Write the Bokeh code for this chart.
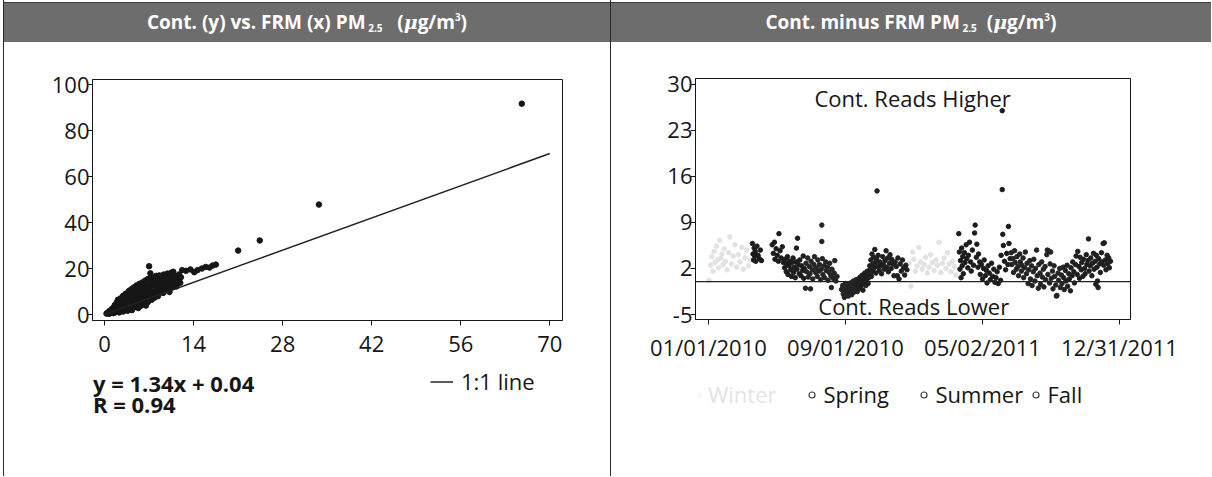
import pandas as pd
from bokeh.plotting import figure
from bokeh.models import Range1d, FixedTicker, Label, Legend, LegendItem, Div, Span
from bokeh.layouts import row, column
from bokeh.embed import file_html
from bokeh.resources import INLINE

FONT = "Open Sans"
INK = "#161616"
NAN = float("nan")

# ---------------- left panel data: Cont. (y) vs FRM (x) ----------------
left_points = [
    (0.3, 0.4), (0.5, 0.9), (0.7, 0.3), (0.8, 1.6), (1.0, 0.8), (1.1, 2.3), (1.2, 1.3), (1.4, 0.6), (1.4, 3.0), (1.5, 1.9),
    (1.6, 4.1), (1.7, 1.0), (1.8, 2.7), (1.9, 5.2), (2.0, 1.6), (2.0, 3.6), (2.1, 6.4), (2.2, 2.4), (2.3, 0.9), (2.3, 4.6),
    (2.4, 3.2), (2.5, 7.0), (2.5, 1.7), (2.6, 5.4), (2.7, 2.6), (2.8, 3.9), (2.9, 8.1), (2.9, 1.3), (3.0, 6.0), (3.1, 3.2),
    (3.2, 4.7), (3.3, 2.0), (3.3, 9.0), (3.4, 5.6), (3.5, 3.8), (3.5, 7.2), (3.6, 1.6), (3.7, 4.6), (3.8, 10.2), (3.8, 6.4),
    (3.9, 2.8), (4.0, 8.2), (4.0, 5.2), (4.1, 3.6), (4.2, 11.0), (4.2, 7.0), (4.3, 1.9), (4.4, 4.4), (4.4, 9.2), (4.5, 6.0),
    (4.5, 2.9), (4.6, 11.8), (4.7, 7.8), (4.8, 5.0), (4.8, 3.4), (4.9, 9.8), (5.0, 6.6), (5.0, 12.6), (5.1, 4.2), (5.2, 8.6),
    (5.3, 2.8), (5.3, 10.8), (5.4, 7.2), (5.5, 5.4), (5.5, 13.4), (5.6, 9.4), (5.7, 3.8), (5.8, 11.6), (5.9, 6.6), (6.0, 14.0),
    (6.0, 8.2), (6.1, 4.8), (6.2, 12.4), (6.3, 10.0), (6.3, 6.0), (6.4, 14.8), (6.5, 7.8), (6.5, 3.9), (6.6, 11.2), (6.7, 9.0),
    (6.8, 15.4), (6.8, 5.4), (6.9, 13.0), (7.0, 21.0), (7.0, 7.2), (7.1, 10.4), (7.2, 17.9), (7.2, 15.8), (7.3, 12.2), (7.4, 6.4),
    (7.4, 8.8), (7.5, 14.4), (7.6, 10.0), (7.7, 16.2), (7.8, 12.8), (7.9, 7.4), (8.0, 14.8), (8.0, 9.4), (8.1, 16.8), (8.2, 11.4),
    (8.3, 13.6), (8.4, 8.0), (8.4, 15.6), (8.5, 12.0), (8.6, 17.0), (8.7, 9.8), (8.8, 14.0), (8.9, 11.2), (9.0, 16.0), (9.1, 13.0),
    (9.2, 9.4), (9.3, 17.4), (9.4, 14.6), (9.5, 11.8), (9.6, 16.4), (9.7, 10.6), (9.8, 13.6), (9.9, 17.8), (10.0, 15.2), (10.1, 12.4),
    (10.2, 9.8), (10.3, 16.6), (10.4, 14.0), (10.5, 18.2), (10.6, 11.8), (10.7, 15.6), (10.8, 18.6), (11.0, 13.4), (11.1, 16.8), (11.3, 12.2),
    (11.5, 15.0), (11.7, 17.4), (11.9, 13.8), (12.0, 16.2), (12.2, 19.3), (12.8, 19.0), (13.5, 19.6), (14.1, 18.4), (14.6, 19.3), (15.3, 20.0),
    (15.9, 20.7), (16.5, 20.4), (17.0, 21.3), (17.5, 21.7), (21.0, 27.8), (24.4, 32.2), (33.7, 47.8), (65.6, 91.7),
]
frm_x = [pt[0] for pt in left_points]
cont_y = [pt[1] for pt in left_points]
one_to_one = [0, 70]
fit_slope, fit_intercept, fit_r = 1.34, 0.04, 0.94
left_xticks = [0, 14, 28, 42, 56, 70]
left_yticks = [0, 20, 40, 60, 80, 100]

# ---------------- right panel data: Cont. minus FRM by day ----------------
start_date = "2010-01-01"
tick_dates = ["01/01/2010", "09/01/2010", "05/02/2011", "12/31/2011"]
right_yticks = [-5, 2, 9, 16, 23, 30]
zero_ref = 0

winter = [
    (1, 0.2), (4, 2.5), (6, 3.8), (8, 1.6), (10, 4.6), (12, 2.9), (14, 5.4), (16, 3.3), (18, 2.1), (20, 6.3),
    (22, 3.6), (24, 4.2), (26, 2.6), (28, 5.0), (30, 3.1), (33, 1.8), (36, 4.4), (38, 6.8), (41, 2.7), (44, 3.9),
    (47, 5.6), (50, 2.2), (53, 4.1), (56, 3.0), (59, 5.2), (62, 1.9), (65, 3.6), (68, 4.8), (71, 2.4), (74, 3.3),
    (356, 2.8), (359, -0.7), (362, 4.5), (364, 3.4), (367, 1.6), (370, 2.4), (373, 5.2), (376, 3.0), (379, 1.9), (382, 2.6),
    (385, 3.7), (388, 1.3), (391, 2.2), (394, 4.1), (397, 2.9), (400, 1.7), (403, 3.3), (406, 2.5), (409, 6.0), (412, 1.4),
    (415, 2.8), (418, 3.6), (421, 2.0), (424, 4.4), (427, 2.7), (430, 1.5), (433, 3.1), (436, 2.3), (439, 1.0),
]
spring = [
    (78, 5.8), (79, 4.2), (80, 3.3), (81, 5.1), (82, 3.9), (83, 4.6), (84, 3.1), (86, 5.4), (88, 4.0), (90, 3.5),
    (92, 4.8), (94, 3.2), (113, 5.6), (115, 4.3), (117, 6.0), (118, 3.4), (120, 5.0), (122, 4.0), (124, 3.1), (125, 7.3),
    (127, 4.7), (129, 3.6), (131, 5.3), (133, 2.9), (135, 2.1), (136, 3.4), (138, 1.5), (139, 2.7), (140, 3.8), (141, 1.1),
    (143, 2.4), (144, 3.1), (146, 1.8), (147, 0.8), (148, 2.9), (150, 3.6), (151, 1.4), (152, 2.2), (154, 0.6), (155, 3.0),
    (156, 5.1), (157, 1.9), (158, 6.6), (159, 2.6), (161, 1.2), (162, 3.3), (164, 0.9), (165, 2.4), (167, 1.7), (168, 3.9),
    (169, 0.5), (170, 2.0),
    (444, 7.3), (445, 4.5), (446, 1.9), (447, 3.2), (448, 0.6), (449, 5.1), (450, 2.4), (451, 3.8), (452, 1.2), (454, 4.4),
    (455, 2.9), (457, 5.6), (458, 3.5), (460, 2.1), (461, 4.0), (463, 6.0), (465, 3.0), (466, 1.6), (468, 4.8), (470, 2.5),
    (472, 7.4), (473, 8.6), (475, 3.7), (476, 5.7), (478, 2.2), (479, 4.2), (481, 3.0), (482, 1.1), (484, 2.6), (486, 0.4),
    (488, 2.0), (489, 3.3), (491, 0.9), (493, 1.7), (494, -0.2), (496, 2.4), (498, 1.3), (500, 0.3), (502, 2.8), (504, 0.8),
    (506, 1.9), (508, -0.1), (510, 0.6), (512, 1.5), (514, -0.3), (516, 2.2), (518, 0.2), (519, 4.0), (521, 26.0), (521, 14.0),
    (522, 7.2), (523, 5.5), (525, 3.1), (527, 1.8), (529, 4.3), (531, 2.6), (532, 8.4), (533, 5.8), (535, 3.5),
]
summer = [
    (172, -1.0), (173, 2.8), (174, 1.5), (176, 3.6), (177, 0.7), (179, 2.3), (180, 1.2), (181, -1.1), (182, 3.1), (184, 1.8),
    (185, 0.4), (187, 2.6), (188, 3.8), (190, 1.4), (191, 2.1), (193, 0.8), (194, 3.3), (196, 1.6), (197, 2.6), (199, 0.3),
    (200, 1.9), (201, 8.6), (201, 6.1), (202, 3.5), (203, 1.1), (205, 2.4), (206, 0.6), (208, 3.0), (209, 1.7), (211, 2.2),
    (212, 0.2), (214, 1.4), (215, 2.8), (217, 0.9), (218, -0.9), (219, 1.9), (221, 0.5), (223, 1.3), (224, 3.2), (226, 0.1),
    (228, 0.8), (236, -1.2), (238, -0.6), (239, -1.9), (240, -1.0), (241, -2.4), (242, -1.5), (243, -0.3), (244, -2.0), (245, -1.1),
    (246, -1.7), (247, -0.5), (248, -2.2), (249, -1.3), (250, -0.8), (251, -1.8), (252, -0.2), (253, -1.4), (254, -2.0), (255, -0.7),
    (256, -1.2), (257, 0.1), (258, -1.6), (259, -0.9), (260, -0.4), (261, -1.3), (262, 0.3), (263, -0.8), (264, -1.5),
    (537, 4.4), (538, 2.6), (540, 3.5), (541, 1.4), (543, 4.7), (544, 2.9), (546, 1.9), (547, 3.8), (549, 2.3), (550, 0.9),
    (552, 4.2), (553, 3.0), (555, 1.6), (556, 2.5), (558, 3.6), (559, 0.6), (561, 2.1), (562, 4.5), (564, 1.2), (565, 2.8),
    (567, -0.3), (568, 1.8), (570, 3.2), (571, 0.4), (573, 2.4), (574, -0.6), (576, 1.5), (577, 3.4), (579, 0.1), (580, 2.0),
    (582, 4.8), (583, 0.9), (585, -1.0), (586, 2.6), (588, 1.3), (589, -0.4), (591, 3.0), (592, 0.7), (594, 1.9), (595, -0.8),
    (597, 2.3), (598, 0.3), (600, 4.1), (601, 4.8), (602, 1.1), (603, 4.7), (605, -0.2), (606, 2.7), (607, 4.5), (608, 0.5),
    (610, 1.6), (611, -1.1), (613, 2.4), (614, 0.8), (616, -0.5), (617, -2.2), (618, -2.1), (620, 1.3), (621, 0.2), (623, 2.0),
    (624, -0.9), (626, 1.0), (627, -0.3), (629, 2.2),
]
fall = [
    (265, -0.5), (266, 0.4), (267, -1.1), (268, -0.2), (269, 0.7), (270, -0.8), (271, 0.2), (272, -0.4), (273, 1.0), (274, -1.3),
    (275, 0.5), (276, -0.1), (277, 1.3), (278, 0.0), (279, -0.6), (280, 0.9), (281, 0.3), (282, 1.6), (283, -0.3), (284, 0.6),
    (285, 1.1), (286, 2.4), (287, 1.8), (288, 3.3), (289, 0.8), (290, 4.2), (291, 2.6), (292, 1.5), (293, 3.7), (294, 2.1),
    (295, 4.9), (296, 2.9), (297, 1.3), (298, 3.5), (299, 13.8), (300, 2.3), (301, 4.0), (303, 1.7), (304, 3.0), (306, 2.4),
    (307, 1.2), (309, 3.8), (310, 2.6), (312, 1.9), (313, 3.2), (315, 4.7), (316, 2.2), (318, 3.6), (319, 1.5), (321, 2.8),
    (322, 4.1), (324, 2.0), (325, 3.4), (327, 2.7), (329, 0.9), (331, 3.0), (333, 2.3), (335, 0.9), (336, 3.6), (338, 0.4),
    (340, 2.7), (342, 1.6), (344, 3.3), (346, 2.1), (348, 1.0), (350, 2.5), (352, 1.8),
    (630, 0.6), (631, -1.2), (633, 1.7), (634, 0.1), (636, 2.5), (637, -0.7), (639, 1.2), (640, 0.4), (642, -1.4), (643, 2.1),
    (645, 0.9), (646, 3.0), (648, 1.5), (649, -0.2), (651, 2.6), (652, 3.9), (654, 1.1), (655, 4.6), (657, 2.3), (658, 0.5),
    (659, 3.7), (661, 1.8), (662, 2.9), (664, 0.8), (665, 3.4), (667, 2.0), (668, 1.2), (670, 4.1), (671, 2.6), (673, 3.2),
    (674, 6.5), (675, 1.6), (677, 2.4), (678, 3.6), (680, 0.9), (681, 2.8), (683, 4.3), (684, 1.9), (686, 3.1), (687, -0.4),
    (688, 4.0), (689, 2.2), (690, 0.1), (691, -0.9), (692, 3.5), (694, 2.7), (695, 1.4), (697, 4.4), (698, 3.0), (700, 5.8),
    (701, 2.5), (702, 5.9), (704, 3.3), (705, 1.8), (707, 4.0), (708, 2.7), (710, 3.6), (711, 2.1), (713, 3.1),
]
season_names = ["Winter", "Spring", "Summer", "Fall"]
season_data = [winter, spring, summer, fall]
season_colors = ["#e2e2e2", "#1c1c1c", "#242424", "#1f1f1f"]
legend_text_colors = ["#e4e4e4", INK, INK, INK]
legend_marker_colors = ["#f3f3f3", "#3a3a3a", "#3a3a3a", "#3a3a3a"]

FS = "22px"


def style(p, xticks, yticks, x_standoff, y_standoff):
    p.grid.visible = False
    p.outline_line_color = INK
    p.outline_line_width = 1
    p.background_fill_color = "white"
    p.border_fill_color = "white"
    p.xaxis.ticker = FixedTicker(ticks=xticks)
    p.yaxis.ticker = FixedTicker(ticks=yticks)
    for ax in list(p.xaxis) + list(p.yaxis):
        ax.axis_line_color = INK
        ax.major_tick_line_color = INK
        ax.minor_tick_line_color = None
        ax.major_tick_in = 0
        ax.major_tick_out = 5
        ax.major_label_text_font = FONT
        ax.major_label_text_font_size = FS
        ax.major_label_text_color = INK
    p.xaxis.major_label_standoff = x_standoff
    p.yaxis.major_label_standoff = y_standoff


def footer(width, height, left, right):
    # frame borders equal to the plot above, so that data x == pixel x inside the column
    f = figure(width=width, height=height, x_range=Range1d(left, width - right), y_range=Range1d(0, height),
               output_backend="svg", toolbar_location=None,
               min_border_left=left, min_border_right=right, min_border_top=0, min_border_bottom=0,
               x_axis_location=None, y_axis_location=None)
    f.grid.visible = False
    f.outline_line_color = None
    f.background_fill_color = "white"
    f.border_fill_color = "white"
    return f


def legend(items, loc, color=INK, glyph_w=15, standoff=5):
    return Legend(items=items, location=loc, orientation="horizontal", padding=0, margin=0,
                  spacing=0, border_line_color=None, background_fill_alpha=0,
                  label_text_font=FONT, label_text_font_size=FS, label_text_color=color,
                  glyph_width=glyph_w, glyph_height=15, label_standoff=standoff, label_height=15)


def box(width, height, color="white"):
    return Div(text="", width=width, height=height, margin=0, styles={"background-color": color})


def header(html, width):
    return Div(text=html, width=width, height=39, margin=0,
               styles={"background-color": "#6d6d6d", "color": "white", "font-family": FONT,
                       "font-weight": "bold", "font-size": "19px", "text-align": "center",
                       "line-height": "39px", "white-space": "nowrap"})


SUB = '<span style="font-size:10px;position:relative;top:3px;">&nbsp;2.5</span>'
SUP = '<span style="font-size:10px;position:relative;top:-8px;">3</span>'
MU = '<i style="font-family:\'DejaVu Serif\';">&mu;</i>'
left_title = f'Cont. (y) vs. FRM (x) PM{SUB}&nbsp;&nbsp;&nbsp;({MU}g/m{SUP})'
right_title = f'Cont. minus FRM PM{SUB}&nbsp;&nbsp;({MU}g/m{SUP})'

LW, RW = 606, 600
PH, FH = 323, 111
L_LEFT, L_RIGHT = 88, 48
R_LEFT, R_RIGHT = 84, 81

# ---------------- left figure ----------------
p1 = figure(width=LW, height=PH, x_range=Range1d(-1.9, 72.0), y_range=Range1d(-2.6, 102.2),
            output_backend="svg", toolbar_location=None,
            min_border_left=L_LEFT, min_border_right=L_RIGHT, min_border_top=37, min_border_bottom=45)
style(p1, left_xticks, left_yticks, 10, -2)
p1.scatter(frm_x, cont_y, size=5.5, color=INK)
p1.line(one_to_one, one_to_one, line_color="#222222", line_width=1.5)

f1 = footer(LW, FH, L_LEFT, L_RIGHT)
f1.add_layout(Label(x=88.5, y=94, text=f"y = {fit_slope:.2f}x + {fit_intercept:.2f}",
                    text_font=FONT, text_font_style="bold", text_font_size=FS,
                    text_color=INK, text_baseline="middle"))
f1.add_layout(Label(x=88.5, y=73, text=f"R = {fit_r:.2f}",
                    text_font=FONT, text_font_style="bold", text_font_size=FS,
                    text_color=INK, text_baseline="middle"))
ref_key = f1.line(x=[NAN, NAN], y=[NAN, NAN], line_color="#222222", line_width=1.5)
f1.add_layout(legend([LegendItem(label="1:1 line", renderers=[ref_key])], (338, 80),
                     glyph_w=23, standoff=8))

# ---------------- right figure ----------------
start = pd.Timestamp(start_date)
tick_pos = [int((pd.to_datetime(d, format="%m/%d/%Y") - start).days) for d in tick_dates]

p2 = figure(width=RW, height=PH, x_range=Range1d(-23, 748.5), y_range=Range1d(-5.76, 30.9),
            output_backend="svg", toolbar_location=None,
            min_border_left=R_LEFT, min_border_right=R_RIGHT, min_border_top=36, min_border_bottom=46)
style(p2, tick_pos, right_yticks, 7, -2)
p2.xaxis.major_label_overrides = {pos: lab for pos, lab in zip(tick_pos, tick_dates)}
p2.yaxis.major_label_overrides = {t: str(t) for t in right_yticks}
p2.add_layout(Span(location=zero_ref, dimension="width", line_color="#222222", line_width=1.2))

f2 = footer(RW, FH, R_LEFT, R_RIGHT)
legend_x = [0, 108.5, 220.5, 332.5]
legend_gw = [8, 15, 15, 15]
for name, pts, col, tcol, mcol, lx, gw in zip(season_names, season_data, season_colors,
                                              legend_text_colors, legend_marker_colors, legend_x, legend_gw):
    days = [d for d, _ in pts]
    vals = [v for _, v in pts]
    p2.scatter(days, vals, size=4.5, color=col)
    key = f2.scatter(x=[NAN], y=[NAN], marker="circle", size=6, fill_color="white",
                     line_color=mcol, line_width=1.2)
    f2.add_layout(legend([LegendItem(label=name, renderers=[key])], (lx, 67), color=tcol, glyph_w=gw))

p2.add_layout(Label(x=362, y=28.0, text="Cont. Reads Higher", text_font=FONT, text_font_size=FS,
                    text_color=INK, text_align="center", text_baseline="middle"))
p2.add_layout(Label(x=364, y=-3.65, text="Cont. Reads Lower", text_font=FONT, text_font_size=FS,
                    text_color=INK, text_align="center", text_baseline="middle"))

# ---------------- layout ----------------
TOTAL_H = 3 + 39 + PH + FH
left_col = column(box(LW, 2), box(LW, 1, "#3a3a3a"), header(left_title, LW), p1, f1, spacing=0)
right_col = column(box(RW, 2), box(RW, 1, "#3a3a3a"), header(right_title, RW), p2, f2, spacing=0)
page = row(box(3, TOTAL_H), box(1, TOTAL_H, "#2a2a2a"), left_col, box(1, TOTAL_H, "#2a2a2a"),
           right_col, spacing=0)

open("out.html", "w").write(file_html(page, INLINE))
